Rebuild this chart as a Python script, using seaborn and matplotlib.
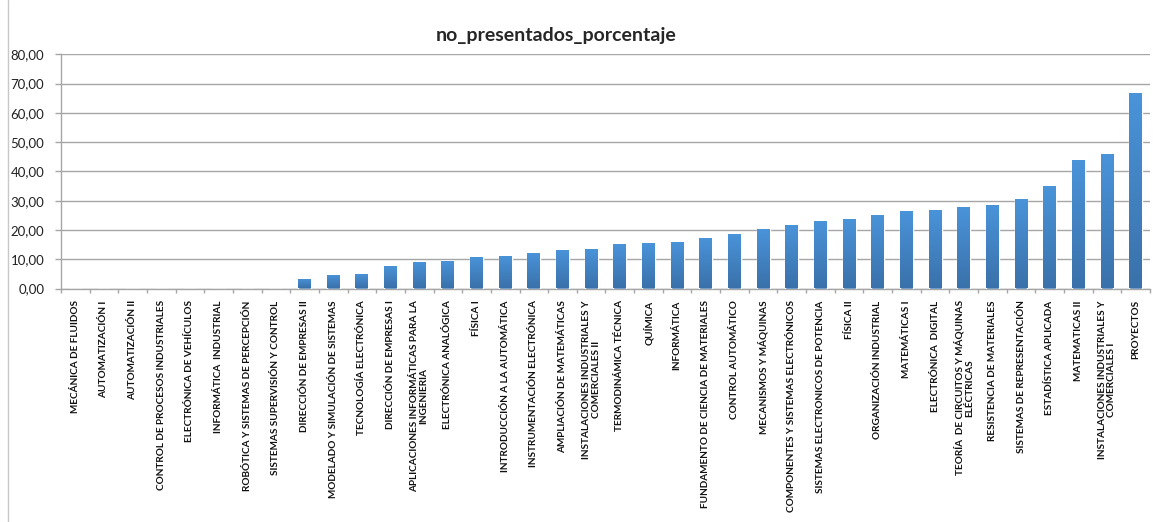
import matplotlib
matplotlib.use("Agg")
import matplotlib.pyplot as plt
import seaborn as sns
import numpy as np
import pandas as pd
from matplotlib.lines import Line2D
from matplotlib.ticker import FuncFormatter, FixedLocator

# ---- data ----
asignaturas = [
    "MECÁNICA DE FLUIDOS",
    "AUTOMATIZACIÓN I",
    "AUTOMATIZACIÓN II",
    "CONTROL DE PROCESOS INDUSTRIALES",
    "ELECTRÓNICA DE VEHÍCULOS",
    "INFORMÁTICA  INDUSTRIAL",
    "ROBÓTICA Y SISTEMAS DE PERCEPCIÓN",
    "SISTEMAS SUPERVISIÓN Y CONTROL",
    "DIRECCIÓN DE EMPRESAS II",
    "MODELADO Y SIMULACIÓN DE SISTEMAS",
    "TECNOLOGÍA ELECTRÓNICA",
    "DIRECCIÓN DE EMPRESAS I",
    "APLICACIONES INFORMÁTICAS PARA LA\nINGENIERIA",
    "ELECTRÓNICA ANALÓGICA",
    "FÍSICA I",
    "INTRODUCCIÓN A LA AUTOMÁTICA",
    "INSTRUMENTACIÓN ELECTRÓNICA",
    "AMPLIACIÓN DE MATEMÁTICAS",
    "INSTALACIONES INDUSTRIALES Y\nCOMERCIALES II",
    "TERMODINÁMICA TÉCNICA",
    "QUÍMICA",
    "INFORMÁTICA",
    "FUNDAMENTO DE CIENCIA DE MATERIALES",
    "CONTROL AUTOMÁTICO",
    "MECANISMOS Y MÁQUINAS",
    "COMPONENTES Y SISTEMAS ELECTRÓNICOS",
    "SISTEMAS ELECTRONICOS DE POTENCIA",
    "FÍSICA II",
    "ORGANIZACIÓN INDUSTRIAL",
    "MATEMÁTICAS I",
    "ELECTRÓNICA  DIGITAL",
    "TEORÍA  DE CIRCUITOS Y MÁQUINAS\nELÉCTRICAS",
    "RESISTENCIA DE MATERIALES",
    "SISTEMAS DE REPRESENTACIÓN",
    "ESTADÍSTICA APLICADA",
    "MATEMATICAS II",
    "INSTALACIONES INDUSTRIALES Y\nCOMERCIALES I",
    "PROYECTOS",
]
no_presentados = [
    0, 0, 0, 0, 0, 0, 0, 0,
    3.2, 4.5, 4.9, 7.6, 8.9, 9.3, 10.6, 11.0, 12.0, 13.0, 13.4,
    15.1, 15.5, 15.8, 17.2, 18.6, 20.2, 21.6, 23.0, 23.7, 25.0,
    26.4, 26.8, 27.8, 28.5, 30.5, 35.0, 43.9, 45.9, 66.8,
]
y_ticks = [0, 10, 20, 30, 40, 50, 60, 70, 80]

df = pd.DataFrame({"asignatura": asignaturas, "porcentaje": no_presentados})

# ---- estilo ----
sns.set_style("white")
plt.rcParams["font.family"] = ["Lato", "DejaVu Sans"]

fig = plt.figure(figsize=(11.57, 5.22), dpi=100)
ax = fig.add_axes([61 / 1157, 1 - 288.5 / 522, (1150 - 61) / 1157, 234.2 / 522])

sns.barplot(data=df, x="asignatura", y="porcentaje", color="#4285cc",
            width=0.45, ax=ax, zorder=3)

# degradado vertical en cada barra (estilo Excel)
grad = np.linspace(0, 1, 256).reshape(-1, 1)
cmap = matplotlib.colors.LinearSegmentedColormap.from_list(
    "excel", ["#3a71aa", "#4a94da"])
for p in ax.patches:
    x0, y0 = p.get_x(), p.get_y()
    w, h = p.get_width(), p.get_height()
    if h <= 0:
        continue
    im = ax.imshow(grad, cmap=cmap, aspect="auto", origin="lower",
                   extent=[x0, x0 + w, y0, y0 + h], zorder=4)
    im.set_clip_path(p)

ax.set_xlim(-0.5, len(asignaturas) - 0.5)
ax.set_ylim(0, 80)
ax.yaxis.set_major_locator(FixedLocator(y_ticks))
ax.yaxis.set_major_formatter(FuncFormatter(lambda v, _: f"{v:.2f}".replace(".", ",")))
ax.grid(axis="y", color="#a6a6a6", linewidth=1, zorder=0)
ax.set_axisbelow(True)

for s in ["top", "right"]:
    ax.spines[s].set_visible(False)
for s in ["left", "bottom"]:
    ax.spines[s].set_color("#a6a6a6")
    ax.spines[s].set_linewidth(1)

ax.tick_params(axis="y", left=True, length=4, width=1, color="#a6a6a6",
               labelsize=9.5, labelcolor="#222222", pad=8)
ax.tick_params(axis="x", bottom=False, labelsize=7.2, labelcolor="#111111", pad=5)

# marcas del eje x en los limites de cada categoria
ax.set_xticks(np.arange(-0.5, len(asignaturas), 1), minor=True)
ax.tick_params(axis="x", which="minor", bottom=True, length=3, width=1, color="#a6a6a6")

ax.set_xticklabels(asignaturas, rotation=90, fontweight="bold",
                   ha="center", va="top", multialignment="center",
                   linespacing=1.1)
ax.set_xlabel("")
ax.set_ylabel("")

fig.text(556 / 1157, 1 - 35 / 522, "no_presentados_porcentaje",
         ha="center", va="center", fontsize=14, fontweight="bold")

# borde del area del grafico
fig.add_artist(Line2D([8 / 1157, 8 / 1157], [0, 1], transform=fig.transFigure,
                      color="#c8c8c8", linewidth=1))

fig.savefig("out.png", dpi=100)
